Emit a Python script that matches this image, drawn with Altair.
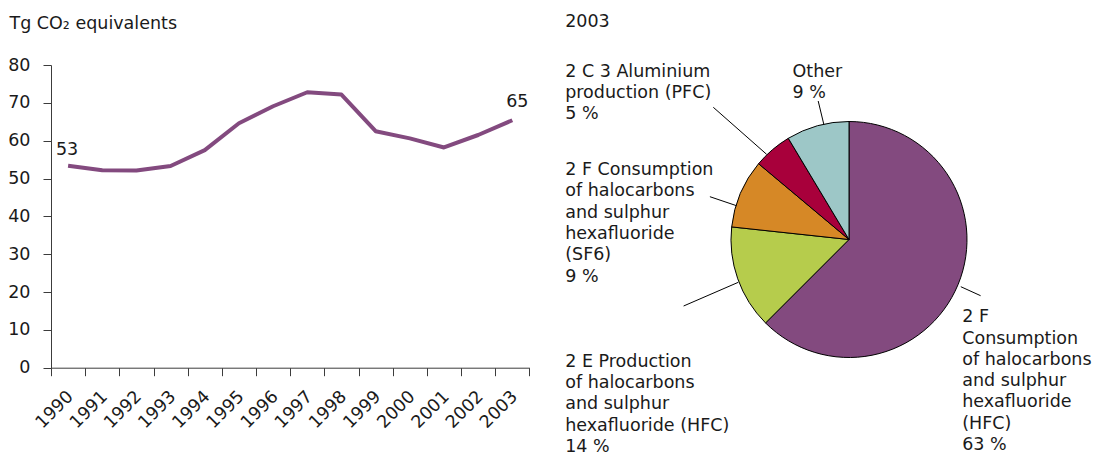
import altair as alt
import pandas as pd

# ---------------- data ----------------
years = ["1990", "1991", "1992", "1993", "1994", "1995", "1996",
         "1997", "1998", "1999", "2000", "2001", "2002", "2003"]
emissions = [53.4, 52.2, 52.1, 53.3, 57.5, 64.6, 69.1,
             72.8, 72.2, 62.5, 60.6, 58.2, 61.5, 65.4]

pie_order = [1, 2, 3, 4, 5]
pie_categories = [
    "2 F Consumption of halocarbons and sulphur hexafluoride (HFC)",
    "2 E Production of halocarbons and sulphur hexafluoride (HFC)",
    "2 F Consumption of halocarbons and sulphur hexafluoride (SF6)",
    "2 C 3 Aluminium production (PFC)",
    "Other",
]
pie_shares = [62.5, 14.2, 9.4, 5.3, 8.6]
pie_colors = ["#834A7F", "#B6CC4C", "#D68826", "#A8003B", "#9DC7C7"]

pie_label_text = [
    "2 F\nConsumption\nof halocarbons\nand sulphur\nhexafluoride\n(HFC)\n63 %",
    "2 E Production\nof halocarbons\nand sulphur\nhexafluoride (HFC)\n14 %",
    "2 F Consumption\nof halocarbons\nand sulphur\nhexafluoride\n(SF6)\n9 %",
    "2 C 3 Aluminium\nproduction (PFC)\n5 %",
    "Other\n9 %",
]
pie_year = "2003"
y_title = "Tg CO₂ equivalents"

# ---------------- layout (pixels, relative to the line chart's plot area) ----------------
FONT = "DejaVu Sans"
FS = 17.5
TXT = "#1a1a1a"
AX = "#3c3c3c"
W, H = 478.4, 302.7
TOTAL_W, TOTAL_H = 1085, 447
PAD = {"left": 43, "top": 57, "right": TOTAL_W - 43 - W, "bottom": TOTAL_H - 57 - H}
PIE_X, PIE_Y, PIE_R = 798, 174.5, 118
label_pos = [(911.2, 257.3), (514.2, 301.7), (514.2, 110), (514.2, 11.7), (741.6, 11.7)]
leader_pos = [
    ((909.8, 221.7), (929.6, 230.7)),
    ((632.6, 241.0), (687.3, 217.3)),
    ((658.9, 131.7), (685.5, 140.7)),
    ((662.3, 42.3), (715.6, 89.3)),
    ((767.2, 36.0), (772.8, 59.3)),
]

line_df = pd.DataFrame({"year": years, "value": emissions})
pie_df = pd.DataFrame({"order": pie_order, "category": pie_categories, "share": pie_shares})
one_row = pd.DataFrame({"k": [0]})

x_enc = alt.X(
    "year:N",
    bandPosition=0.5,
    scale=alt.Scale(type="band", paddingInner=0, paddingOuter=0),
    axis=alt.Axis(
        title=None, tickBand="extent", labelAngle=315, labelAlign="right",
        labelBaseline="middle", labelPadding=18, labelOffset=2, tickSize=8,
        labelFontSize=FS, labelFont=FONT, labelColor=TXT, domainColor=AX,
        tickColor=AX, grid=False, labelOverlap=False,
    ),
)
y_enc = alt.Y(
    "value:Q",
    scale=alt.Scale(domain=[0, 80], nice=False),
    axis=alt.Axis(
        values=[0, 10, 20, 30, 40, 50, 60, 70, 80], grid=False, tickSize=8,
        labelPadding=13, labelFontSize=FS, labelFont=FONT, labelColor=TXT,
        domainColor=AX, tickColor=AX, labelOverlap=False,
        title=y_title, titleAngle=0, titleAlign="left",
        titleBaseline="alphabetic", titleX=-42, titleY=-37,
        titleFont=FONT, titleFontSize=FS, titleFontWeight="normal", titleColor=TXT,
    ),
)

base = alt.Chart(line_df)
line = base.mark_line(color="#834A7F", strokeWidth=4, strokeJoin="round").encode(x=x_enc, y=y_enc)

first_lbl = base.transform_filter(alt.datum.year == years[0]).transform_calculate(
    lbl="format(round(datum.value), 'd')"
).mark_text(font=FONT, fontSize=FS, fontWeight="normal", color=TXT,
            baseline="alphabetic", dy=-11, dx=-1).encode(x=x_enc, y=y_enc, text="lbl:N")
last_lbl = base.transform_filter(alt.datum.year == years[-1]).transform_calculate(
    lbl="format(round(datum.value), 'd')"
).mark_text(font=FONT, fontSize=FS, fontWeight="normal", color=TXT,
            baseline="alphabetic", dy=-13, dx=5).encode(x=x_enc, y=y_enc, text="lbl:N")

pie = alt.Chart(pie_df).mark_arc(outerRadius=PIE_R, stroke="#000000", strokeWidth=1).encode(
    theta=alt.Theta("share:Q", stack=True),
    order=alt.Order("order:Q", sort="ascending"),
    color=alt.Color("category:N", scale=alt.Scale(domain=pie_categories, range=pie_colors), legend=None),
    x=alt.value(PIE_X),
    y=alt.value(PIE_Y),
)

layers = [line, first_lbl, last_lbl, pie]

layers.append(
    alt.Chart(one_row).mark_text(
        font=FONT, fontSize=FS, fontWeight="normal", color=TXT, align="left", baseline="alphabetic"
    ).encode(x=alt.value(514.2), y=alt.value(-38.3), text=alt.value(pie_year))
)

for txt, (lx, ly) in zip(pie_label_text, label_pos):
    layers.append(
        alt.Chart(one_row).mark_text(
            font=FONT, fontSize=FS, fontWeight="normal", color=TXT, align="left",
            baseline="alphabetic", lineBreak="\n", lineHeight=21.3,
        ).encode(x=alt.value(lx), y=alt.value(ly), text=alt.value(txt))
    )

for (p1, p2) in leader_pos:
    layers.append(
        alt.Chart(one_row).mark_rule(color="#000000", strokeWidth=1).encode(
            x=alt.value(p1[0]), y=alt.value(p1[1]), x2=alt.value(p2[0]), y2=alt.value(p2[1])
        )
    )

chart = alt.layer(*layers).properties(
    width=W, height=H, padding=PAD, autosize=alt.AutoSizeParams(type="none"),
    background="white",
).configure_view(stroke=None)

chart.save("out.html", embed_options={"renderer": "svg", "actions": False})
